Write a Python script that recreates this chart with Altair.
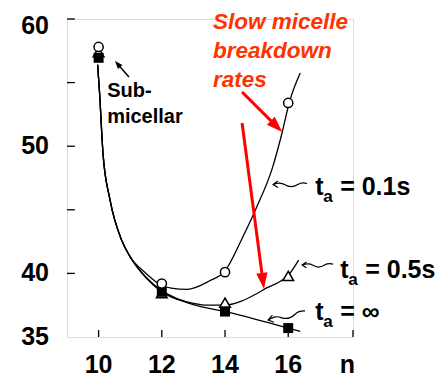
import altair as alt
import pandas as pd

FONT = "Liberation Sans"

# ---- measured points ----
n_pts = [10, 12, 14, 16]
circ_v = [57.8, 39.2, 40.1, 53.4]     # t_a = 0.1 s
tri_v = [57.4, 38.45, 37.7, 39.8]     # t_a = 0.5 s
sq_v = [56.95, 38.55, 37.0, 35.7]     # t_a = infinity

# ---- fitted curves ----
common_n = [9.97, 10.03, 10.14, 10.36, 10.73, 11.0]
common_v = [56.4, 54.2, 49.4, 45.8, 42.6, 41.3]
c01_n = common_n + [11.5, 12.0, 12.3, 12.8, 13.5, 14.0, 14.57, 15.0, 15.5, 15.8, 16.03, 16.38]
c01_v = common_v + [40.0, 39.05, 38.85, 38.75, 39.4, 40.2, 42.9, 45.2, 48.3, 51.0, 53.4, 55.75]
c05_n = common_n + [11.5, 12.0, 12.5, 13.0, 13.5, 14.0, 14.5, 15.0, 15.35, 15.7, 16.0, 16.33]
c05_v = common_v + [39.7, 38.65, 38.0, 37.65, 37.5, 37.5, 37.8, 38.4, 38.9, 39.3, 39.85, 41.05]
cinf_n = common_n + [11.5, 12.0, 12.5, 13.0, 13.5, 14.0, 16.0, 16.38]
cinf_v = common_v + [39.65, 38.55, 37.95, 37.55, 37.25, 37.0, 35.7, 35.45]

y_ticks = [60, 55, 50, 45, 40]
y_labels = [35, 40, 50]
y_top_label = [60]
x_ticks = [10, 12, 14, 16, 18.05]
x_labels = [10, 12, 14, 16]

xs = alt.Scale(domain=[9, 18.05], nice=False, zero=False)
ys = alt.Scale(domain=[35, 60], nice=False, zero=False)

rows = []
for name, ns, vs in [("0.1", c01_n, c01_v), ("0.5", c05_n, c05_v), ("inf", cinf_n, cinf_v)]:
    for i, (a, b) in enumerate(zip(ns, vs)):
        rows.append({"s": name, "i": i, "n": a, "v": b})
curves = pd.DataFrame(rows)

base_x = alt.X("n:Q", scale=xs, axis=alt.Axis(
    title=None, grid=False, ticks=False, labels=False,
    domainColor="black", domainWidth=1.3))
base_y = alt.Y("v:Q", scale=ys, axis=alt.Axis(
    title=None, grid=False, ticks=False, labels=False,
    domainColor="black", domainWidth=1.3))

lines = alt.Chart(curves).mark_line(interpolate="monotone", color="black", strokeWidth=1.3).encode(
    x=base_x, y=base_y, detail="s:N", order="i:Q")

def X(f="n"):
    return alt.X(f + ":Q", scale=xs, axis=None)

def Y(f="v"):
    return alt.Y(f + ":Q", scale=ys, axis=None)

# ticks (drawn inward, as in the reference)
xt = pd.DataFrame({"n": x_ticks, "v": [35] * len(x_ticks), "v2": [35.55] * len(x_ticks)})
yt = pd.DataFrame({"v": y_ticks, "n": [9] * len(y_ticks), "n2": [9.25] * len(y_ticks)})
xtick = alt.Chart(xt).mark_rule(color="black", strokeWidth=1.3).encode(x=X(), y=Y(), y2="v2:Q")
ytick = alt.Chart(yt).mark_rule(color="black", strokeWidth=1.3).encode(y=Y(), x=X(), x2="n2:Q")

# tick labels
ylab_style = dict(align="right", baseline="middle", font=FONT, fontSize=25, fontWeight="bold",
                  color="black", dx=-18)
ylab = alt.Chart(pd.DataFrame({"v": y_labels, "n": [9] * len(y_labels),
                               "t": [str(v) for v in y_labels]})).mark_text(**ylab_style).encode(
    x=X(), y=Y(), text="t:N")
ylab_top = alt.Chart(pd.DataFrame({"v": y_top_label, "n": [9],
                                   "t": [str(v) for v in y_top_label]})).mark_text(dy=7, **ylab_style).encode(
    x=X(), y=Y(), text="t:N")
xlab = alt.Chart(pd.DataFrame({"n": x_labels + [17.87], "v": [35] * (len(x_labels) + 1),
                               "t": [str(v) for v in x_labels] + ["n"]})).mark_text(
    align="center", baseline="alphabetic", font=FONT, fontSize=25, fontWeight="bold",
    color="black", dy=36).encode(x=X(), y=Y(), text="t:N")

tri = alt.Chart(pd.DataFrame({"n": n_pts, "v": tri_v})).mark_point(
    shape="triangle-up", size=115, filled=False, fill="white", fillOpacity=1,
    stroke="black", strokeWidth=1.5, opacity=1).encode(x=X(), y=Y())
sq = alt.Chart(pd.DataFrame({"n": n_pts, "v": sq_v})).mark_point(
    shape="square", size=100, filled=True, color="black", opacity=1).encode(x=X(), y=Y())
circ = alt.Chart(pd.DataFrame({"n": n_pts, "v": circ_v})).mark_point(
    shape="circle", size=85, filled=False, fill="white", fillOpacity=1,
    stroke="black", strokeWidth=1.5, opacity=1).encode(x=X(), y=Y())

# ---- red annotation ----
red_text = pd.DataFrame({"n": [13.62] * 3, "v": [59.2, 56.92, 54.64],
                         "t": ["Slow micelle", "breakdown", "rates"]})
red = alt.Chart(red_text).mark_text(
    align="left", baseline="alphabetic", font=FONT, fontSize=22.5, fontWeight="bold",
    fontStyle="italic", color="#ff3300").encode(x=X(), y=Y(), text="t:N")

arrows = pd.DataFrame({"n": [14.54, 14.54], "v": [54.26, 51.82],
                       "n2": [15.63, 15.20], "v2": [51.56, 39.4], "a": [135, 172.5]})
red_shaft = alt.Chart(arrows).mark_rule(color="#ff0000", strokeWidth=3).encode(
    x=X(), y=Y(), x2="n2:Q", y2="v2:Q")
red_head = alt.Chart(arrows).mark_point(
    shape="M0,-1L0.7,1L-0.7,1Z", size=256, filled=True, color="#ff0000", opacity=1).encode(
    x=X("n2"), y=Y("v2"), angle=alt.Angle("a:Q", scale=None))

# ---- Sub-micellar ----
sub = alt.Chart(pd.DataFrame({"n": [10.27, 10.27], "v": [53.87, 51.82], "t": ["Sub-", "micellar"]})).mark_text(
    align="left", baseline="alphabetic", font=FONT, fontSize=20, fontWeight="bold",
    color="black").encode(x=X(), y=Y(), text="t:N")
sub_arrow = pd.DataFrame({"n": [10.96], "v": [55.44], "n2": [10.60], "v2": [56.46], "a": [318.8]})
sub_shaft = alt.Chart(sub_arrow).mark_rule(color="black", strokeWidth=1.5).encode(
    x=X(), y=Y(), x2="n2:Q", y2="v2:Q")
sub_head = alt.Chart(sub_arrow).mark_point(
    shape="M0,-1L0.75,1L-0.75,1Z", size=64, filled=True, color="black", opacity=1).encode(
    x=X("n2"), y=Y("v2"), angle=alt.Angle("a:Q", scale=None))

# ---- curly leaders ----
SQUIGGLE = ("M-0.72,-0.2L-1,0L-0.72,0.18M-1,0C-0.75,-0.08 -0.55,-0.14 -0.3,0.02"
            "C-0.05,0.18 0.2,0.16 0.45,0.0C0.65,-0.12 0.85,-0.1 1,-0.06")
lead = pd.DataFrame({"n": [16.06, 16.93, 15.95], "v": [46.99, 40.66, 36.65],
                     "sz": [1156, 961, 1444], "a": [0, 0, 348]})
leaders = alt.Chart(lead).mark_point(
    shape=SQUIGGLE, filled=False, stroke="black", strokeWidth=1.2, opacity=1).encode(
    x=X(), y=Y(), size=alt.Size("sz:Q", scale=None), angle=alt.Angle("a:Q", scale=None))

# ---- t_a labels ----
labs = pd.DataFrame({"n": [16.853, 17.645, 16.853], "v": [46.16, 39.64, 36.34],
                     "rest": ["= 0.1s", "= 0.5s", "= \u221e"]})
t_main = alt.Chart(labs).mark_text(align="left", baseline="alphabetic", font=FONT, fontSize=25,
                                   fontWeight="bold", color="black", text="t").encode(x=X(), y=Y())
t_sub = alt.Chart(labs).mark_text(align="left", baseline="alphabetic", font=FONT, fontSize=17,
                                  fontWeight="bold", color="black", text="a", dx=8, dy=7).encode(x=X(), y=Y())
t_rest = alt.Chart(labs).mark_text(align="left", baseline="alphabetic", font=FONT, fontSize=25,
                                   fontWeight="bold", color="black", dx=25).encode(x=X(), y=Y(), text="rest:N")

chart = alt.layer(
    lines, xtick, ytick, ylab, ylab_top, xlab, tri, sq, circ, red_shaft, red_head, red,
    sub, sub_shaft, sub_head, leaders, t_main, t_sub, t_rest
).properties(
    width=286, height=318,
    autosize=alt.AutoSizeParams(type="none"),
    padding={"left": 59, "top": 11, "right": 85, "bottom": 42},
).configure_view(stroke=None).configure(background="white")

chart.save("out.html", embed_options={"renderer": "svg", "actions": False})
